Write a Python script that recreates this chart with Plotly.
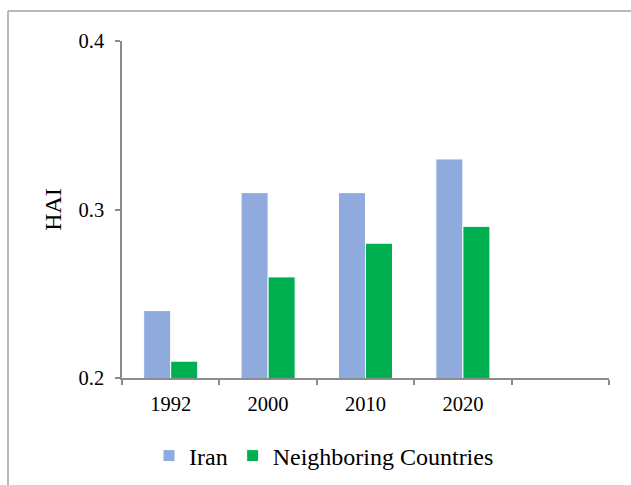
import plotly.graph_objects as go

categories = ["1992", "2000", "2010", "2020", " "]
iran = [0.24, 0.31, 0.31, 0.33, None]
neighbors = [0.21, 0.26, 0.28, 0.29, None]
y_ticks = [0.2, 0.3, 0.4]

FONT = "'Liberation Serif', 'Times New Roman', serif"
AXIS_COLOR = "#8c8c8c"

fig = go.Figure()
fig.add_trace(go.Bar(name="Iran", x=categories, y=iran,
                     marker=dict(color="#8FAADC", line=dict(color="white", width=1))))
fig.add_trace(go.Bar(name="Neighboring Countries", x=categories, y=neighbors,
                     marker=dict(color="#00B050", line=dict(color="white", width=1))))

W, H = 631, 485
L, R, T, B = 122, 22, 41, 107
pw, ph = W - L - R, H - T - B

def px_x(x):
    return (x - L) / pw

def px_y(y):
    return (H - B - y) / ph

fig.update_layout(
    width=W, height=H,
    margin=dict(l=L, r=R, t=T, b=B, autoexpand=False),
    paper_bgcolor="white", plot_bgcolor="white",
    font=dict(family=FONT, color="black", size=20.5),
    barmode="group", bargap=0.445, bargroupgap=0,
    showlegend=True,
    legend=dict(orientation="h", x=px_x(324), xanchor="center", y=px_y(456), yanchor="middle",
                font=dict(size=24, family=FONT), traceorder="normal", itemwidth=30,
                bgcolor="rgba(0,0,0,0)"),
    xaxis=dict(type="category", range=[-0.5, 4.5], showline=True, linecolor=AXIS_COLOR, linewidth=1.5,
               ticks="outside", ticklen=5, tickcolor=AXIS_COLOR, tickwidth=1.5, tickson="boundaries",
               showgrid=False, zeroline=False, tickfont=dict(size=20.5, family=FONT), ticklabelstandoff=7),
    yaxis=dict(range=[0.2, 0.4], tickvals=y_ticks, tickformat=".1f", showline=True,
               linecolor=AXIS_COLOR, linewidth=1.5, ticks="outside", ticklen=5, tickcolor=AXIS_COLOR,
               tickwidth=1.5, showgrid=False, zeroline=False, tickfont=dict(size=20.5, family=FONT),
               ticklabelstandoff=7,
               title=dict(text="HAI", font=dict(size=24, family=FONT), standoff=10)),
    shapes=[
        dict(type="line", xref="paper", yref="paper", x0=px_x(8), x1=px_x(640), y0=px_y(11), y1=px_y(11),
             line=dict(color="#a0a0a0", width=1.5)),
        dict(type="line", xref="paper", yref="paper", x0=px_x(8), x1=px_x(8), y0=px_y(11), y1=px_y(495),
             line=dict(color="#a0a0a0", width=1.5)),
    ],
)

fig.write_html("out.html")
